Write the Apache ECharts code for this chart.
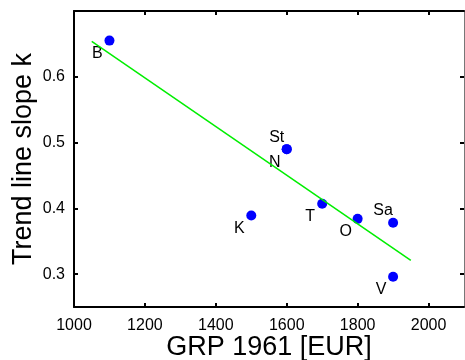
<!DOCTYPE html>
<html>
<head>
<meta charset="utf-8">
<script src="https://cdn.jsdelivr.net/npm/echarts@6/dist/echarts.min.js"></script>
<style>
  html, body { margin: 0; padding: 0; background: #fff; }
  #chart { width: 465px; height: 360px; }
</style>
</head>
<body>
<div id="chart"></div>
<script>
// region labels and measured values
const names = ['B', 'St', 'N', 'K', 'T', 'O', 'Sa', 'V']
const grp = [1100, 1600, 1600, 1500, 1700, 1800, 1900, 1900]
const slope = [0.655, 0.49, 0.49, 0.389, 0.407, 0.384, 0.378, 0.296]

// fitted trend line end points
const trendX = [1050, 1950]
const trendY = [0.654, 0.321]

const xTicks = [1000, 1200, 1400, 1600, 1800, 2000]
const yTicks = [0.3, 0.4, 0.5, 0.6]

const chart = echarts.init(document.getElementById('chart'))

// labels drawn above their dot, the rest go below-left
const above = ['St', 'Sa']

const font = 'Liberation Sans, Arial, sans-serif'

const baseX = {
    type: 'value',
    min: 1000,
    max: 2100,
    splitLine: { show: false },
    axisLine: { show: true, lineStyle: { color: '#000', width: 2 } },
    axisTick: { show: true, inside: true, length: 4, customValues: xTicks, lineStyle: { color: '#000', width: 2 } }
}
const baseY = {
    type: 'value',
    min: 0.25,
    max: 0.7,
    splitLine: { show: false },
    axisLine: { show: true, lineStyle: { color: '#000', width: 2 } },
    axisTick: { show: true, inside: true, length: 4, customValues: yTicks, lineStyle: { color: '#000', width: 2 } }
}

const option = {
    animation: false,
    grid: { left: 74, right: 1, top: 11, bottom: 53, outerBoundsMode: 'none', containLabel: false },
    xAxis: [
        {
            ...baseX,
            position: 'bottom',
            name: 'GRP 1961 [EUR]',
            nameLocation: 'middle',
            nameGap: 27,
            nameMoveOverlap: false,
            nameTextStyle: { fontSize: 27, color: '#000', fontFamily: font },
            axisLabel: {
                customValues: xTicks, fontSize: 16, color: '#000', margin: 11, fontFamily: font,
                formatter: v => String(v)
            }
        },
        {
            ...baseX,
            position: 'top',
            axisLabel: { show: false }
        }
    ],
    yAxis: [
        {
            ...baseY,
            position: 'left',
            name: 'Trend line slope k',
            nameLocation: 'middle',
            nameGap: 37,
            nameMoveOverlap: false,
            nameTextStyle: { fontSize: 27, color: '#000', fontFamily: font },
            axisLabel: {
                customValues: yTicks, fontSize: 16, color: '#000', margin: 9, fontFamily: font,
                formatter: v => v.toFixed(1)
            }
        },
        {
            ...baseY,
            position: 'right',
            axisLine: { show: true, lineStyle: { color: '#777', width: 1 } },
            axisLabel: { show: false }
        }
    ],
    series: [
        {
            type: 'scatter',
            symbol: 'circle',
            symbolSize: 10,
            itemStyle: { color: '#0000ff', opacity: 1 },
            data: names.map((n, i) => ({
                name: n,
                value: [grp[i], slope[i]],
                label: {
                    show: true,
                    formatter: n,
                    position: 'inside',
                    offset: above.includes(n) ? [-10, -12] : [-12, 13],
                    fontSize: 16,
                    color: '#000',
                    fontFamily: font
                }
            })),
            z: 2
        },
        {
            type: 'line',
            data: trendX.map((x, i) => [x, trendY[i]]),
            symbol: 'none',
            lineStyle: { color: '#00ee00', width: 1.5 },
            z: 3
        }
    ]
}

chart.setOption(option)
</script>
</body>
</html>
